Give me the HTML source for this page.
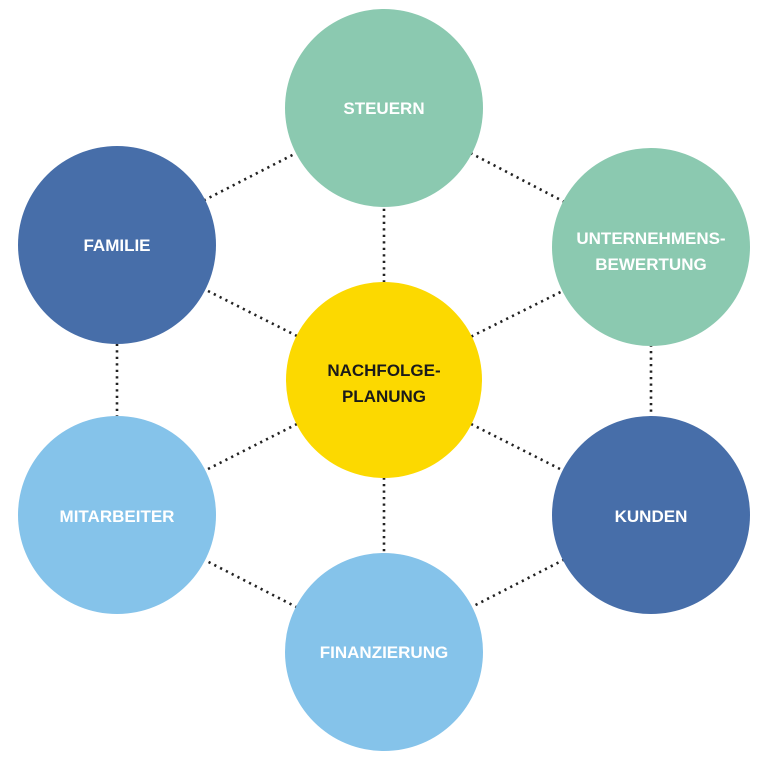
<!DOCTYPE html>
<html><head><meta charset="utf-8"><style>
html,body{margin:0;padding:0;background:#fff;}
svg{display:block}
text{font-family:"Liberation Sans",sans-serif;font-weight:bold;font-size:17px;text-anchor:middle;fill:#fff}
</style></head><body>
<svg width="766" height="762" viewBox="0 0 766 762">
<g stroke="#222" stroke-width="2.6" stroke-dasharray="2.2 4.3" stroke-linecap="butt">
<line x1="384" y1="108" x2="651" y2="247"/>
<line x1="651" y1="247" x2="651" y2="515"/>
<line x1="651" y1="515" x2="384" y2="652"/>
<line x1="384" y1="652" x2="117" y2="515"/>
<line x1="117" y1="515" x2="117" y2="245"/>
<line x1="117" y1="245" x2="384" y2="108"/>
<line x1="384" y1="380" x2="384" y2="108"/>
<line x1="384" y1="380" x2="651" y2="247"/>
<line x1="384" y1="380" x2="651" y2="515"/>
<line x1="384" y1="380" x2="384" y2="652"/>
<line x1="384" y1="380" x2="117" y2="515"/>
<line x1="384" y1="380" x2="117" y2="245"/>
</g>
<circle cx="384" cy="108" r="99" fill="#8bc9b0"/>
<circle cx="651" cy="247" r="99" fill="#8bc9b0"/>
<circle cx="651" cy="515" r="99" fill="#476ea9"/>
<circle cx="384" cy="652" r="99" fill="#85c3ea"/>
<circle cx="117" cy="515" r="99" fill="#85c3ea"/>
<circle cx="117" cy="245" r="99" fill="#476ea9"/>
<circle cx="384" cy="380" r="98" fill="#fcd900"/>
<text x="384" y="114">STEUERN</text>
<text x="651" y="244">UNTERNEHMENS-</text>
<text x="651" y="270">BEWERTUNG</text>
<text x="651" y="522">KUNDEN</text>
<text x="384" y="658">FINANZIERUNG</text>
<text x="117" y="522">MITARBEITER</text>
<text x="117" y="251">FAMILIE</text>
<text x="384" y="376" style="fill:#1a1a1a">NACHFOLGE-</text>
<text x="384" y="402" style="fill:#1a1a1a">PLANUNG</text>
</svg>
</body></html>
